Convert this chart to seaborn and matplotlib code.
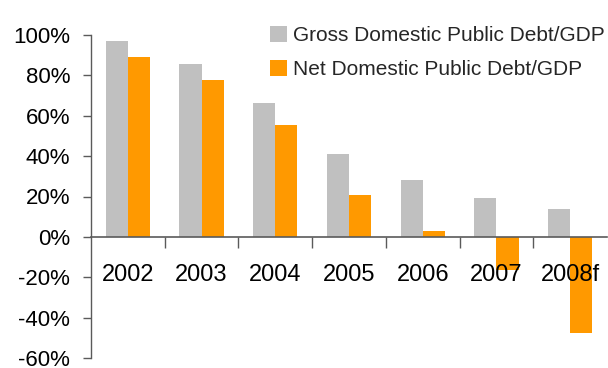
import matplotlib
matplotlib.use("Agg")
import matplotlib.pyplot as plt
from matplotlib.ticker import FixedLocator, PercentFormatter
import seaborn as sns
import pandas as pd

years = ["2002", "2003", "2004", "2005", "2006", "2007", "2008f"]
gross_debt = [97.1, 85.4, 66.3, 41.0, 28.3, 19.5, 13.7]
net_debt = [89.3, 77.6, 55.6, 20.5, 2.9, -16.6, -47.8]
series_names = ["Gross Domestic Public Debt/GDP", "Net Domestic Public Debt/GDP"]
colors = ["#C0C0C0", "#FF9900"]

df = pd.DataFrame({
    "year": years * 2,
    "series": [series_names[0]] * len(years) + [series_names[1]] * len(years),
    "value": gross_debt + net_debt,
})

sns.set_style("white")
plt.rcParams["font.family"] = ["Liberation Sans", "DejaVu Sans"]
plt.rcParams["axes.unicode_minus"] = False

fig = plt.figure(figsize=(6.08, 3.68), dpi=100)
ax = fig.add_axes([91 / 608, 10 / 368, 516 / 608, 323 / 368])

sns.barplot(data=df, x="year", y="value", hue="series", order=years,
            hue_order=series_names, palette=colors, width=0.6,
            saturation=1, linewidth=0, edgecolor="none", ax=ax, legend=True)

ax.set_xlim(-0.5, len(years) - 0.5)
ax.set_ylim(-60, 100)
ax.set_xlabel("")
ax.set_ylabel("")

spine_color = "#5a5a5a"
for side in ["top", "right"]:
    ax.spines[side].set_visible(False)
ax.spines["left"].set_color(spine_color)
ax.spines["bottom"].set_color(spine_color)
ax.spines["left"].set_linewidth(1.0)
ax.spines["bottom"].set_linewidth(1.2)
ax.spines["bottom"].set_position(("data", 0))
ax.set_axisbelow(False)

# y axis: percent ticks every 20
ax.yaxis.set_major_locator(FixedLocator(range(-60, 101, 20)))
ax.yaxis.set_major_formatter(PercentFormatter(decimals=0))
ax.tick_params(axis="y", which="major", direction="out", length=6,
               width=1, color=spine_color, left=True, pad=9,
               labelsize=16, labelcolor="black")

# x axis: tick marks between categories, labels centred under each group
ax.xaxis.set_major_locator(FixedLocator([i + 0.5 for i in range(len(years) - 1)]))
ax.xaxis.set_major_formatter(plt.NullFormatter())
ax.set_xticks(range(len(years)), minor=True)
ax.set_xticklabels(years, minor=True)
ax.tick_params(axis="x", which="major", direction="out", length=8,
               width=1, color=spine_color, bottom=True)
ax.tick_params(axis="x", which="minor", length=0, pad=19.5,
               labelsize=17, labelcolor="black")

leg = ax.legend(loc="upper left", bbox_to_anchor=(270 / 608, 1 - 26 / 368),
                bbox_transform=fig.transFigure, frameon=False, fontsize=15,
                handlelength=0.8, handleheight=0.8, handletextpad=0.3,
                labelspacing=0.72, borderpad=0, borderaxespad=0)
for h in leg.legend_handles:
    h.set_edgecolor("none")

fig.savefig("out.png", dpi=100)
